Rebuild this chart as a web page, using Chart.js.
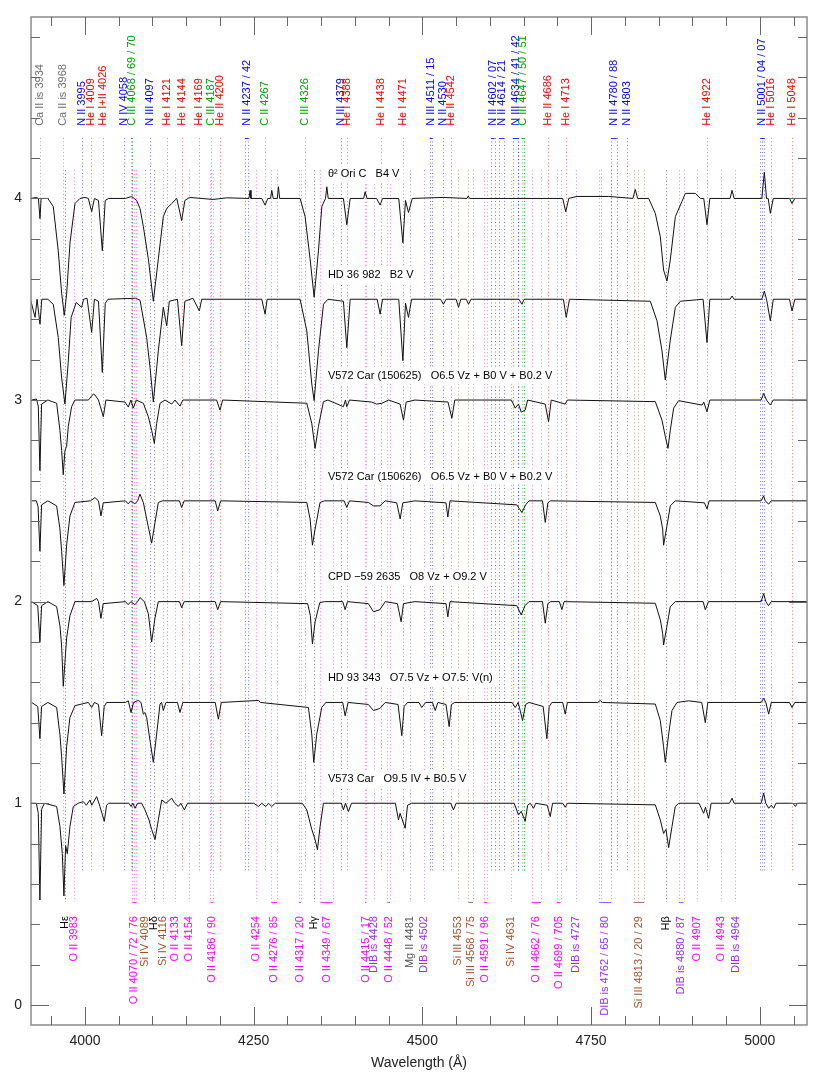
<!DOCTYPE html>
<html>
<head>
<meta charset="utf-8">
<title>Spectra</title>
<script src="https://cdn.jsdelivr.net/npm/chart.js@4.4.1/dist/chart.umd.min.js"></script>
<style>
  html, body { margin: 0; padding: 0; background: #fff; }
  #wrap { position: relative; width: 830px; height: 1080px; }
</style>
</head>
<body>
<div id="wrap"><canvas id="spectra"></canvas></div>
<script>

// spectra: [wavelength, flux relative to the continuum]
const thetaOriC = [[3920,0],[3928,0.005],[3931,0],[3933.3,-0.10],[3935,0],[3945,0],[3953,-0.04],[3960.4,-0.26],[3965.4,-0.47],[3969.3,-0.58],[3972.9,-0.47],[3977.8,-0.22],[3985.2,-0.025],[3992.6,0],[4000,0.005],[4005,0],[4009.9,-0.066],[4014,0],[4020,-0.01],[4025.7,-0.26],[4030,-0.01],[4035,0],[4060,0],[4069.2,0.01],[4073,0],[4076.6,-0.01],[4081.6,-0.05],[4086.5,-0.14],[4093.9,-0.30],[4101.3,-0.51],[4108.7,-0.30],[4116.1,-0.09],[4121.1,-0.05],[4128.5,-0.025],[4136,0],[4143.3,-0.11],[4148,-0.01],[4155,0.005],[4190,-0.005],[4210,0.003],[4243,0],[4244.7,0.04],[4246,0],[4262,0],[4266.9,-0.033],[4271,0],[4275,0],[4276.8,0.04],[4279,0],[4285,0],[4286.7,0.058],[4288.5,0],[4318.8,0],[4326.2,-0.09],[4333.6,-0.30],[4339.6,-0.49],[4346,-0.26],[4351,-0.04],[4356.5,0],[4358.4,0.058],[4360.5,0],[4383,0],[4388,-0.13],[4393,0],[4413,0],[4415.2,0.033],[4418,0],[4432,0],[4437.4,-0.033],[4441,0],[4465,0],[4471.1,-0.22],[4475,-0.01],[4479.4,-0.07],[4485,0],[4531,0.005],[4566,0],[4568,0.012],[4570,0],[4708,0],[4712.5,-0.066],[4717,0],[4729,0.01],[4776,0.01],[4812,0],[4815.5,0.045],[4819,0],[4835.3,0],[4845.2,-0.074],[4852.6,-0.19],[4857.5,-0.355],[4862.5,-0.41],[4867.4,-0.305],[4874.9,-0.09],[4884.7,-0.015],[4889.7,0.025],[4904.5,0.025],[4912,0],[4917,0],[4921.8,-0.13],[4926,0],[4956,0],[4958.9,0.04],[4962,0],[5003,0],[5006.8,0.13],[5010,0],[5012.5,0],[5015.7,-0.074],[5020,0],[5044,0],[5047.8,-0.025],[5052,0],[5070,0]];

const hd36982 = [[3920,-0.01],[3926,-0.09],[3929,0],[3933.3,-0.124],[3936,0],[3945,0],[3953,-0.025],[3960.4,-0.19],[3965.4,-0.39],[3970.3,-0.52],[3975,-0.32],[3979.5,-0.09],[3987,-0.016],[3995,-0.04],[3998,0],[4003,0.005],[4009.9,-0.165],[4014,0],[4020,-0.01],[4025.7,-0.363],[4030,-0.02],[4034,0],[4075,0.005],[4081.6,-0.005],[4091.4,-0.19],[4096.4,-0.338],[4101.3,-0.51],[4108.7,-0.256],[4116.1,-0.04],[4121.1,-0.132],[4125,-0.01],[4137,0],[4143.3,-0.23],[4148,-0.01],[4160,0.005],[4169.5,-0.058],[4173,0],[4262,0],[4266.9,-0.074],[4270,0],[4318.8,0],[4328.7,-0.157],[4336.1,-0.42],[4339.6,-0.503],[4346,-0.256],[4353.4,-0.025],[4360,0],[4383,-0.01],[4388,-0.24],[4393,0],[4433,0],[4437.4,-0.074],[4441,0],[4465,0],[4471.1,-0.305],[4475,-0.02],[4479.4,-0.09],[4484,0],[4527,0],[4531.3,-0.025],[4535,0],[4550,0],[4553.6,-0.04],[4557,0],[4565,0],[4568.4,-0.025],[4572,0],[4643,0],[4647.5,-0.025],[4651,0],[4709,0],[4713.2,-0.09],[4718,0],[4837.8,-0.01],[4847.7,-0.107],[4855.1,-0.256],[4860,-0.40],[4867.4,-0.203],[4874.9,-0.04],[4882.3,-0.01],[4916,0],[4921.8,-0.215],[4926,0],[4956,0],[4958.9,0.016],[4962,0],[5003,0],[5006.8,0.04],[5010,0],[5015.7,-0.107],[5020,0],[5044,0],[5047.8,-0.058],[5052,0],[5070,0]];

const v572a = [[3920.9,0],[3928,0.005],[3930.8,-0.03],[3933.2,-0.35],[3935.7,-0.02],[3945,0],[3958,-0.016],[3962.9,-0.15],[3965.4,-0.25],[3967.8,-0.37],[3970.3,-0.25],[3972.8,-0.23],[3975.3,-0.13],[3980.2,-0.033],[3985.1,0],[4005,0],[4012.3,0.03],[4014.8,0.025],[4020,0],[4027.2,-0.083],[4031,0],[4059.3,-0.01],[4064.2,-0.035],[4068,0],[4071.6,-0.04],[4076,0],[4086.5,-0.016],[4093.9,-0.083],[4098.8,-0.15],[4102.8,-0.215],[4106.2,-0.116],[4111.2,-0.016],[4118.6,0],[4128.5,-0.02],[4133.4,0],[4140.8,-0.03],[4145,0],[4195,0],[4200.1,-0.05],[4204,0],[4328.7,-0.016],[4336.1,-0.116],[4341,-0.24],[4346,-0.13],[4353.4,-0.008],[4360,0],[4383,-0.033],[4386,0],[4388,-0.033],[4392,0],[4425,-0.01],[4432,-0.02],[4440,-0.016],[4450,0],[4467,-0.02],[4472,-0.10],[4476,-0.01],[4489,0],[4538,-0.01],[4543.7,-0.09],[4548,0],[4632,0],[4637.6,-0.04],[4642.5,-0.02],[4646.5,-0.06],[4652.4,-0.05],[4656,0],[4682,-0.02],[4687,-0.107],[4691,0],[4711.7,-0.02],[4715,0],[4845.2,-0.008],[4855.1,-0.1],[4860,-0.18],[4864,-0.24],[4867.4,-0.15],[4872.4,-0.04],[4879.8,-0.003],[4914.4,-0.025],[4917,-0.01],[4921.8,-0.058],[4926,0],[5002,0],[5005.8,0.033],[5010,0],[5015.7,-0.025],[5020,0],[5070,0]];

const v572b = [[3921,0],[3928,0],[3930.5,-0.03],[3933.2,-0.25],[3935.7,-0.02],[3945,0],[3958,-0.025],[3962.9,-0.14],[3965.4,-0.25],[3968.8,-0.42],[3972.8,-0.22],[3977.7,-0.075],[3985.1,-0.008],[4008,0],[4014.8,0.016],[4020,0],[4023.7,-0.075],[4027,-0.01],[4060,0],[4064,-0.015],[4068,0],[4074,-0.015],[4078,0],[4081.5,0.033],[4086.5,-0.008],[4091.4,-0.09],[4096.4,-0.17],[4098.8,-0.21],[4103.8,-0.107],[4108.7,-0.008],[4115,0],[4140,0],[4143.3,-0.033],[4147,0],[4193,0],[4196.7,-0.05],[4201,0],[4328.7,-0.008],[4333.6,-0.09],[4337.1,-0.22],[4341,-0.14],[4348.4,-0.008],[4355,0],[4384,0],[4388,-0.033],[4392,0],[4420,-0.008],[4427.5,-0.025],[4437,-0.025],[4445,0],[4462,-0.01],[4467.1,-0.09],[4471,-0.01],[4489,0],[4535,-0.01],[4537.7,-0.08],[4541,0],[4640,-0.02],[4647.5,-0.058],[4653,-0.02],[4658,0],[4678,0],[4682.1,-0.107],[4686,-0.01],[4690,0],[4845.2,-0.008],[4852.6,-0.075],[4856.1,-0.14],[4857.5,-0.22],[4862.5,-0.124],[4867.4,-0.025],[4874.8,0],[4918,-0.01],[4921.8,-0.04],[4925,0],[5002,0],[5005.8,0.025],[5008,0],[5013.2,-0.016],[5017,0],[5070,0]];

const cpd592635 = [[3921,0],[3930,-0.02],[3933.2,-0.2],[3935.7,-0.02],[3945,0],[3958,-0.025],[3962.9,-0.12],[3965.4,-0.22],[3967.8,-0.42],[3970.3,-0.30],[3972.8,-0.18],[3977.7,-0.07],[3985.1,0],[4010,0],[4017.3,0.016],[4020,0],[4023.7,-0.083],[4027,-0.01],[4060,0],[4064,-0.015],[4068,0],[4074,-0.015],[4078,0],[4081.5,0.02],[4088,0],[4093.9,-0.06],[4098.8,-0.2],[4103.8,-0.08],[4108.7,0],[4140,0],[4143.3,-0.03],[4147,0],[4193,0],[4196.7,-0.04],[4201,0],[4330,-0.01],[4334,-0.07],[4337.1,-0.21],[4341,-0.1],[4348,-0.005],[4355,0],[4382,0],[4385.5,-0.04],[4389,0],[4420,-0.01],[4427.5,-0.05],[4437,-0.04],[4445,0],[4463,-0.01],[4468.5,-0.1],[4472,-0.01],[4489,0],[4535,-0.01],[4537.7,-0.075],[4541,0],[4640,-0.02],[4646.5,-0.066],[4652,-0.02],[4658,0],[4678,0],[4682.1,-0.107],[4686,-0.01],[4690,0],[4703,0],[4706.8,-0.04],[4710,0],[4845.2,-0.008],[4852.6,-0.09],[4856.1,-0.157],[4857.5,-0.215],[4862.5,-0.12],[4867.4,-0.025],[4874.8,0],[4916,0],[4919.3,-0.04],[4924,0],[5002,0],[5005.8,0.04],[5009,0],[5013,-0.02],[5017,0],[5070,0]];

const hd93343 = [[3921,0],[3930,-0.02],[3933.2,-0.18],[3935.7,-0.02],[3945,0],[3958,-0.025],[3962.9,-0.16],[3965.4,-0.27],[3968.8,-0.454],[3972.8,-0.22],[3977.7,-0.075],[3985.1,-0.016],[4005,0],[4009.9,-0.025],[4014,0],[4020,-0.01],[4024.7,-0.165],[4028.5,-0.02],[4032,0],[4060,0],[4064.2,0.008],[4068.2,-0.05],[4072,0],[4079.1,0.01],[4083,0],[4086.5,-0.058],[4088.9,-0.05],[4091.4,-0.075],[4096.4,-0.19],[4101.3,-0.297],[4106.2,-0.157],[4111.2,-0.008],[4113.5,0],[4116.1,-0.04],[4120,0],[4137,0],[4140.8,-0.05],[4145,0],[4193,0],[4197.7,-0.083],[4202,0],[4257,0.01],[4260,0],[4331.1,-0.025],[4336.1,-0.157],[4339,-0.297],[4343.5,-0.157],[4350.9,-0.025],[4357,0],[4382,0],[4385.5,-0.066],[4390,0],[4420,-0.01],[4427.5,-0.04],[4437,-0.03],[4445,0],[4464,-0.01],[4469.5,-0.165],[4473,-0.02],[4478,0],[4495,0],[4499,-0.025],[4505,0],[4515,0],[4519,-0.04],[4523,0],[4535,-0.01],[4539.7,-0.12],[4543,-0.01],[4548,0],[4633,0],[4637.6,-0.025],[4642,0],[4648.5,-0.09],[4653,-0.01],[4658,0],[4679,-0.02],[4684.5,-0.18],[4688,-0.02],[4692,0],[4708,0],[4711.7,-0.058],[4715,0],[4760,0],[4763.6,0.01],[4767,0],[4845.2,-0.008],[4852.6,-0.09],[4857.5,-0.22],[4860,-0.297],[4865,-0.157],[4869.9,-0.04],[4877.3,0],[4894.6,0.008],[4914,0],[4919.3,-0.1],[4923,0],[5002,0],[5005.8,0.02],[5009,0],[5013.2,-0.058],[5017,0],[5044,0],[5047.8,-0.025],[5052,0],[5070,0]];

const v573 = [[3921,0],[3928,0],[3930.8,-0.05],[3933.2,-0.48],[3935.7,-0.03],[3940,0],[3958,-0.016],[3962.9,-0.116],[3966.4,-0.25],[3968.8,-0.46],[3971.3,-0.21],[3973.8,-0.25],[3977.7,-0.116],[3982.7,-0.016],[3990,0],[3997.5,0.008],[4002,-0.01],[4007.4,0.016],[4010,-0.01],[4017.3,0.033],[4022.2,-0.016],[4028.6,-0.09],[4032,-0.01],[4035,0],[4065,0],[4068.2,-0.016],[4071,0],[4074.1,-0.025],[4078,0],[4084,0],[4088.9,-0.033],[4094.9,-0.083],[4098.8,-0.13],[4103.8,-0.18],[4108.7,-0.083],[4113.7,0.016],[4120,0],[4128.5,0.025],[4133,0],[4138.4,-0.016],[4142,0],[4147.3,-0.033],[4152,0],[4250,0],[4257,-0.016],[4262,0],[4268,-0.016],[4272,0],[4276.8,-0.016],[4282,0],[4322,0],[4328.7,-0.033],[4336.1,-0.13],[4341,-0.18],[4344.5,-0.23],[4348.4,-0.116],[4353.4,0],[4380,0],[4383,-0.033],[4386,0],[4390.4,-0.041],[4395,0],[4460,0],[4464.6,-0.083],[4467,-0.05],[4474.5,-0.124],[4478,-0.01],[4484,0],[4542,0],[4546.1,-0.033],[4550,0],[4636,0],[4642.5,-0.058],[4646.5,-0.04],[4652.4,-0.09],[4656,-0.01],[4660,0],[4664.8,-0.025],[4668,0],[4685,-0.01],[4689.5,-0.066],[4693,0],[4708,0],[4711.7,-0.02],[4715,0],[4845.2,-0.008],[4852.6,-0.083],[4857.5,-0.15],[4861,-0.13],[4865,-0.22],[4869.9,-0.116],[4874.8,-0.016],[4880,0],[4910,0],[4916.8,-0.05],[4919.5,-0.02],[4924.2,-0.075],[4928,0],[4955,0],[4958.9,0.025],[4962,0],[5002,0],[5005.8,0.05],[5009,0],[5013.2,-0.025],[5017,-0.01],[5020.6,-0.025],[5024,0],[5049,0],[5052.8,-0.016],[5056,0],[5070,0]];

const spectra = [thetaOriC, hd36982, v572a, v572b, cpd592635, hd93343, v573];
const offsets = [4, 3.5, 3, 2.5, 2, 1.5, 1];
const starNames = [
  'θ² Ori C   B4 V',
  'HD 36 982   B2 V',
  'V572 Car (150625)   O6.5 Vz + B0 V + B0.2 V',
  'V572 Car (150626)   O6.5 Vz + B0 V + B0.2 V',
  'CPD −59 2635   O8 Vz + O9.2 V',
  'HD 93 343   O7.5 Vz + O7.5: V(n)',
  'V573 Car   O9.5 IV + B0.5 V'
];

// line identifications: [label, wavelengths, element]
const topLines = [
  ['Ca II is 3934', [3934], 'ca'],
  ['Ca II is 3968', [3968], 'ca'],
  ['N II 3995', [3995], 'n'],
  ['He I 4009', [4009], 'he'],
  ['He I+II 4026', [4026], 'he'],
  ['N IV 4058', [4058], 'n'],
  ['C III 4068 / 69 / 70', [4068, 4069, 4070], 'c'],
  ['N III 4097', [4097], 'n'],
  ['He I 4121', [4121], 'he'],
  ['He I 4144', [4144], 'he'],
  ['He I 4169', [4169], 'he'],
  ['C III 4187', [4187], 'c'],
  ['He II 4200', [4200], 'he'],
  ['N II 4237 / 42', [4237, 4242], 'n'],
  ['C II 4267', [4267], 'c'],
  ['C III 4326', [4326], 'c'],
  ['N III 4379', [4379], 'n'],
  ['He I 4388', [4388], 'he'],
  ['He I 4438', [4438], 'he'],
  ['He I 4471', [4471], 'he'],
  ['N III 4511 / 15', [4511, 4515], 'n'],
  ['N II 4530', [4530], 'n'],
  ['He II 4542', [4542], 'he'],
  ['N II 4602 / 07', [4602, 4607], 'n'],
  ['N II 4614 / 21', [4614, 4621], 'n'],
  ['N III 4634 / 41 / 42', [4634, 4641, 4642], 'n'],
  ['C III 4647 / 50 / 51', [4647, 4650, 4651], 'c'],
  ['He II 4686', [4686], 'he'],
  ['He I 4713', [4713], 'he'],
  ['N II 4780 / 88', [4780, 4788], 'n'],
  ['N II 4803', [4803], 'n'],
  ['He I 4922', [4922], 'he'],
  ['N II 5001 / 04 / 07', [5001, 5004, 5007], 'n'],
  ['He I 5016', [5016], 'he'],
  ['He I 5048', [5048], 'he']
];

const bottomLines = [
  ['Hε', [3970], 'h'],
  ['O II 3983', [3983], 'o'],
  ['O II 4070 / 72 / 76', [4070, 4072, 4076], 'o'],
  ['Si IV 4089', [4089], 'si'],
  ['Hδ', [4102], 'h'],
  ['Si IV 4116', [4116], 'si'],
  ['O II 4133', [4133], 'o'],
  ['O II 4154', [4154], 'o'],
  ['O II 4186 / 90', [4186, 4190], 'o'],
  ['O II 4254', [4254], 'o'],
  ['O II 4276 / 85', [4276, 4285], 'o'],
  ['O II 4317 / 20', [4317, 4320], 'o'],
  ['Hγ', [4340], 'h'],
  ['O II 4349 / 67', [4349, 4367], 'o'],
  ['O II 4415 / 17', [4415, 4417], 'o'],
  ['DIB is 4428', [4428], 'dib'],
  ['O II 4448 / 52', [4448, 4452], 'o'],
  ['Mg II 4481', [4481], 'mg'],
  ['DIB is 4502', [4502], 'dib'],
  ['Si III 4553', [4553], 'si'],
  ['Si III 4568 / 75', [4568, 4575], 'si'],
  ['O II 4591 / 96', [4591, 4596], 'o'],
  ['Si IV 4631', [4631], 'si'],
  ['O II 4662 / 76', [4662, 4676], 'o'],
  ['O II 4699 / 705', [4699, 4705], 'o'],
  ['DIB is 4727', [4727], 'dib'],
  ['DIB is 4762 / 65 / 80', [4762, 4765, 4780], 'dib'],
  ['Si III 4813 / 20 / 29', [4813, 4820, 4829], 'si'],
  ['Hβ', [4861], 'h'],
  ['DIB is 4880 / 87', [4880, 4887], 'dib'],
  ['O II 4907', [4907], 'o'],
  ['O II 4943', [4943], 'o'],
  ['DIB is 4964', [4964], 'dib']
];

const yTicks = [0, 1, 2, 3, 4];
const xTicks = [4000, 4250, 4500, 4750, 5000];

const colors = {
  ca: '#6e6e6e', n: '#0000ff', he: '#ff0000', c: '#00a000', o: '#ff00ff',
  si: '#a0522d', h: '#000000', mg: '#555555', dib: '#9030ff'
};

const FONT = '"Liberation Sans", Arial, Helvetica, sans-serif';
Chart.defaults.font.family = FONT;
Chart.defaults.color = '#222';

function vText(ctx, txt, x, y, color, align) {
  ctx.save();
  ctx.translate(x, y);
  ctx.rotate(-Math.PI / 2);
  ctx.textAlign = align;
  ctx.textBaseline = 'middle';
  ctx.fillStyle = color;
  ctx.fillText(txt, 0, 0);
  ctx.restore();
}

function markerLines(ctx, xs, ys, list, yTop, yBot) {
  const top = ys.getPixelForValue(yTop);
  const bot = ys.getPixelForValue(yBot);
  list.forEach(([, waves, el]) => {
    ctx.strokeStyle = colors[el];
    waves.forEach(w => {
      const px = Math.round(xs.getPixelForValue(w)) + 0.5;
      ctx.beginPath();
      ctx.moveTo(px, top);
      ctx.lineTo(px, bot);
      ctx.stroke();
    });
  });
}

function brackets(ctx, xs, ys, list, yVal) {
  const py = Math.round(ys.getPixelForValue(yVal)) + 0.5;
  list.forEach(([, waves, el]) => {
    if (waves.length < 2) return;
    ctx.strokeStyle = colors[el];
    ctx.beginPath();
    ctx.moveTo(xs.getPixelForValue(waves[0]), py);
    ctx.lineTo(xs.getPixelForValue(waves[waves.length - 1]), py);
    ctx.stroke();
  });
}

const annotations = {
  id: 'annotations',
  beforeDatasetsDraw(chart) {
    const ctx = chart.ctx;
    const xs = chart.scales.x, ys = chart.scales.y;
    ctx.save();
    ctx.lineWidth = 1;
    ctx.globalAlpha = 0.55;
    ctx.setLineDash([1, 2.5]);
    markerLines(ctx, xs, ys, topLines, 4.30, 0.663);
    markerLines(ctx, xs, ys, bottomLines, 4.14, 0.51);
    ctx.setLineDash([]);
    ctx.globalAlpha = 0.8;
    brackets(ctx, xs, ys, topLines, 4.30);
    brackets(ctx, xs, ys, bottomLines, 0.51);
    ctx.restore();
  },
  afterDatasetsDraw(chart) {
    const ctx = chart.ctx;
    const xs = chart.scales.x, ys = chart.scales.y;
    ctx.save();
    ctx.font = '11px ' + FONT;
    ctx.textBaseline = 'middle';
    const lx = xs.getPixelForValue(4360);
    starNames.forEach((name, i) => {
      const py = ys.getPixelForValue(offsets[i] + 0.12);
      const w = ctx.measureText(name).width;
      ctx.fillStyle = '#fff';
      ctx.fillRect(lx - 4, py - 8, w + 8, 16);
      ctx.fillStyle = '#000';
      ctx.fillText(name, lx, py);
    });
    ctx.restore();
  },
  afterDraw(chart) {
    const ctx = chart.ctx;
    const xs = chart.scales.x, ys = chart.scales.y;
    const a = chart.chartArea;
    ctx.save();
    ctx.font = '11px ' + FONT;
    const topBase = ys.getPixelForValue(4.36);
    topLines.forEach(([txt, waves, el]) => {
      const w = (waves[0] + waves[waves.length - 1]) / 2;
      vText(ctx, txt, xs.getPixelForValue(w), topBase, colors[el], 'left');
    });
    const botTop = ys.getPixelForValue(0.44);
    bottomLines.forEach(([txt, waves, el]) => {
      const w = (waves[0] + waves[waves.length - 1]) / 2;
      vText(ctx, txt, xs.getPixelForValue(w), botTop, colors[el], 'right');
    });

    // frame and inward ticks
    ctx.strokeStyle = '#8a8a8a';
    ctx.lineWidth = 1.5;
    ctx.strokeRect(a.left, a.top, a.right - a.left, a.bottom - a.top);
    ctx.strokeStyle = '#666';
    ctx.lineWidth = 1;
    ctx.beginPath();
    for (let w = 3950; w <= 5050; w += 50) {
      const px = Math.round(xs.getPixelForValue(w)) + 0.5;
      const len = w % 250 === 0 ? 18 : 9;
      ctx.moveTo(px, a.bottom); ctx.lineTo(px, a.bottom - len);
      ctx.moveTo(px, a.top); ctx.lineTo(px, a.top + len);
    }
    for (let k = 0; k <= 24; k++) {
      const v = k * 0.2;
      const py = Math.round(ys.getPixelForValue(v)) + 0.5;
      const len = k % 5 === 0 ? 18 : 9;
      ctx.moveTo(a.left, py); ctx.lineTo(a.left + len, py);
      ctx.moveTo(a.right, py); ctx.lineTo(a.right - len, py);
    }
    ctx.stroke();
    ctx.restore();
  }
};

const datasets = spectra.map((spec, i) => ({
  data: spec.map(([w, f]) => ({ x: w, y: offsets[i] + f })),
  borderColor: '#111',
  borderWidth: 1,
  pointRadius: 0,
  tension: 0,
  fill: false
}));

const spectraChart = new Chart(document.querySelector('#spectra'), {
  type: 'line',
  data: { datasets: datasets },
  options: {
    responsive: true,
    maintainAspectRatio: false,
    animation: false,
    devicePixelRatio: 1,
    layout: { padding: { top: 17, right: 23, left: 0, bottom: 0 } },
    scales: {
      x: {
        type: 'linear',
        min: 3920,
        max: 5070,
        grid: { display: false },
        border: { display: false },
        afterBuildTicks: s => { s.ticks = xTicks.map(v => ({ value: v })); },
        afterFit: s => { s.height = 55; },
        ticks: { font: { size: 14 }, color: '#222', padding: 0, maxRotation: 0, callback: v => String(v) },
        title: {
          display: true,
          text: 'Wavelength (Å)',
          font: { size: 14 },
          color: '#222',
          padding: { top: 0, bottom: 8 }
        }
      },
      y: {
        min: -0.1,
        max: 4.9,
        grid: { display: false },
        border: { display: false },
        afterBuildTicks: s => { s.ticks = yTicks.map(v => ({ value: v })); },
        afterFit: s => { s.width = 31; },
        ticks: { font: { size: 14 }, color: '#222', padding: 1 }
      }
    },
    plugins: {
      legend: { display: false },
      tooltip: { enabled: false }
    }
  },
  plugins: [annotations]
});
</script>
</body>
</html>
